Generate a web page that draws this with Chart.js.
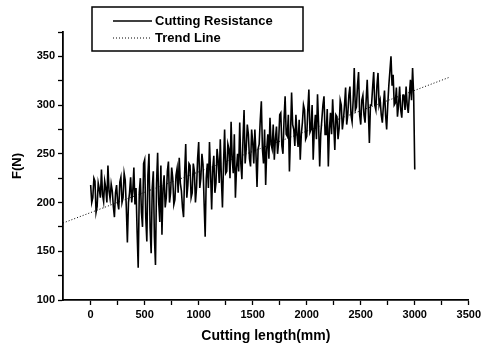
<!DOCTYPE html>
<html>
<head>
<meta charset="utf-8">
<script src="https://cdn.jsdelivr.net/npm/chart.js@4"></script>
<style>
  body { margin: 0; background: #fff; }
  #wrap { width: 484px; height: 347px; position: relative; }
</style>
</head>
<body>
<div id="wrap"><canvas id="forceChart"></canvas></div>
<script>
const lengthStep = 10;
const forceN = [
  218, 200, 205, 225, 222, 190, 196, 220, 214, 205, 234, 208, 201, 222, 215, 200, 238, 212, 204, 219,
  212, 196, 185, 210, 218, 200, 193, 221, 226, 200, 205, 230, 223, 195, 159, 200, 210, 226, 200, 212,
  236, 198, 215, 170, 133, 210, 225, 190, 175, 240, 244, 185, 160, 228, 250, 175, 148, 215, 232, 165,
  136, 220, 251, 200, 180, 238, 167, 215, 228, 195, 205, 232, 242, 200, 210, 236, 225, 198, 203, 228,
  235, 210, 246, 220, 212, 195, 185, 230, 260, 205, 218, 240, 238, 205, 210, 240, 232, 200, 215, 245,
  262, 215, 225, 250, 239, 200, 165, 225, 240, 215, 262, 230, 193, 235, 248, 210, 220, 255, 243, 220,
  265, 225, 195, 240, 275, 230, 232, 260, 255, 225, 283, 245, 230, 270, 205, 235, 250, 232, 282, 240,
  224, 265, 295, 240, 255, 280, 270, 245, 237, 275, 262, 240, 275, 250, 216, 255, 260, 285, 304, 255,
  240, 275, 218, 255, 270, 245, 287, 260, 255, 280, 244, 265, 278, 250, 262, 290, 292, 258, 250, 285,
  309, 270, 268, 290, 232, 270, 313, 280, 275, 258, 290, 270, 257, 285, 244, 270, 282, 300, 295, 265,
  268, 295, 316, 272, 275, 300, 244, 275, 290, 265, 311, 280, 237, 270, 285, 300, 309, 270, 270, 296,
  237, 275, 292, 270, 306, 280, 254, 290, 288, 265, 276, 305, 300, 275, 285, 300, 318, 280, 290, 310,
  319, 290, 283, 305, 338, 295, 298, 320, 334, 290, 280, 305, 310, 290, 282, 305, 326, 295, 261, 300,
  300, 318, 334, 300, 295, 320, 333, 300, 305, 290, 282, 300, 315, 290, 275, 300, 320, 335, 350, 320,
  331, 300, 302, 318, 288, 300, 319, 295, 287, 310, 310, 295, 319, 300, 292, 310, 326, 305, 338, 310,
  234
];
const cutLength = forceN.map((_, i) => i * lengthStep);

// trend line end points
const trendX = [-256, 3320];
const trendY = [179, 328.5];

// axis ticks (majors get labels, the rest are minor marks)
const xTicks = [0, 250, 500, 750, 1000, 1250, 1500, 1750, 2000, 2250, 2500, 2750, 3000, 3250, 3500];
const xMajor = 500;
const yTicks = [100, 125, 150, 175, 200, 225, 250, 275, 300, 325, 350, 375];
const yMajor = 50;

const seriesNames = ["Cutting Resistance", "Trend Line"];
const xLabel = "Cutting length(mm)";
const yLabel = "F(N)";

const font = "'Liberation Sans', Arial, sans-serif";

// boxed legend in the upper left, like the original figure
const boxLegend = {
  id: "boxLegend",
  afterDraw(chart) {
    const ctx = chart.ctx;
    ctx.save();
    ctx.strokeStyle = "#000";
    ctx.lineWidth = 1.5;
    ctx.strokeRect(92, 7, 211, 44);
    ctx.font = "bold 13px " + font;
    ctx.fillStyle = "#000";
    ctx.textBaseline = "middle";
    // solid sample
    ctx.lineWidth = 1.5;
    ctx.beginPath();
    ctx.moveTo(113, 21);
    ctx.lineTo(152, 21);
    ctx.stroke();
    ctx.fillText(seriesNames[0], 155, 21);
    // dotted sample
    ctx.lineWidth = 1;
    ctx.setLineDash([1, 2]);
    ctx.beginPath();
    ctx.moveTo(113, 38);
    ctx.lineTo(152, 38);
    ctx.stroke();
    ctx.setLineDash([]);
    ctx.fillText(seriesNames[1], 155, 38);
    ctx.restore();
  }
};

new Chart(document.getElementById("forceChart"), {
  type: "line",
  data: {
    datasets: [
      {
        label: seriesNames[0],
        data: cutLength.map((x, i) => ({ x: x, y: forceN[i] })),
        borderColor: "#000",
        borderWidth: 1.6,
        pointRadius: 0,
        tension: 0,
      },
      {
        label: seriesNames[1],
        data: trendX.map((x, i) => ({ x: x, y: trendY[i] })),
        borderColor: "#000",
        borderWidth: 1,
        borderDash: [1, 2],
        pointRadius: 0,
      },
    ],
  },
  options: {
    responsive: true,
    maintainAspectRatio: false,
    animation: false,
    layout: { padding: { top: 32, right: 15, bottom: 0, left: 0 } },
    plugins: { legend: { display: false }, tooltip: { enabled: false } },
    scales: {
      x: {
        type: "linear",
        min: -256,
        max: 3500,
        afterBuildTicks: (s) => { s.ticks = xTicks.map(v => ({ value: v })); },
        afterFit: (s) => { s.height = 47; },
        ticks: {
          autoSkip: false,
          maxRotation: 0,
          padding: 3,
          color: "#000",
          font: { family: font, size: 11, weight: "bold" },
          callback: (v) => (v % xMajor === 0 ? String(v) : ""),
        },
        grid: { drawOnChartArea: false, tickLength: 5, tickColor: "#000", tickWidth: 1.3 },
        border: { color: "#000", width: 1.8 },
        title: {
          display: true,
          text: xLabel,
          color: "#000",
          font: { family: font, size: 14, weight: "bold" },
          padding: { top: 0, bottom: 2 },
        },
      },
      y: {
        min: 100,
        max: 375,
        afterBuildTicks: (s) => { s.ticks = yTicks.map(v => ({ value: v })); },
        afterFit: (s) => { s.width = 63; },
        ticks: {
          autoSkip: false,
          padding: 3,
          color: "#000",
          font: { family: font, size: 11, weight: "bold" },
          callback: (v) => (v % yMajor === 0 ? String(v) : ""),
        },
        grid: { drawOnChartArea: false, tickLength: 5, tickColor: "#000", tickWidth: 1.3 },
        border: { color: "#000", width: 1.8 },
        title: {
          display: true,
          text: yLabel,
          color: "#000",
          font: { family: font, size: 13, weight: "bold" },
          padding: { top: 10, bottom: 0 },
        },
      },
    },
  },
  plugins: [boxLegend],
});
</script>
</body>
</html>
